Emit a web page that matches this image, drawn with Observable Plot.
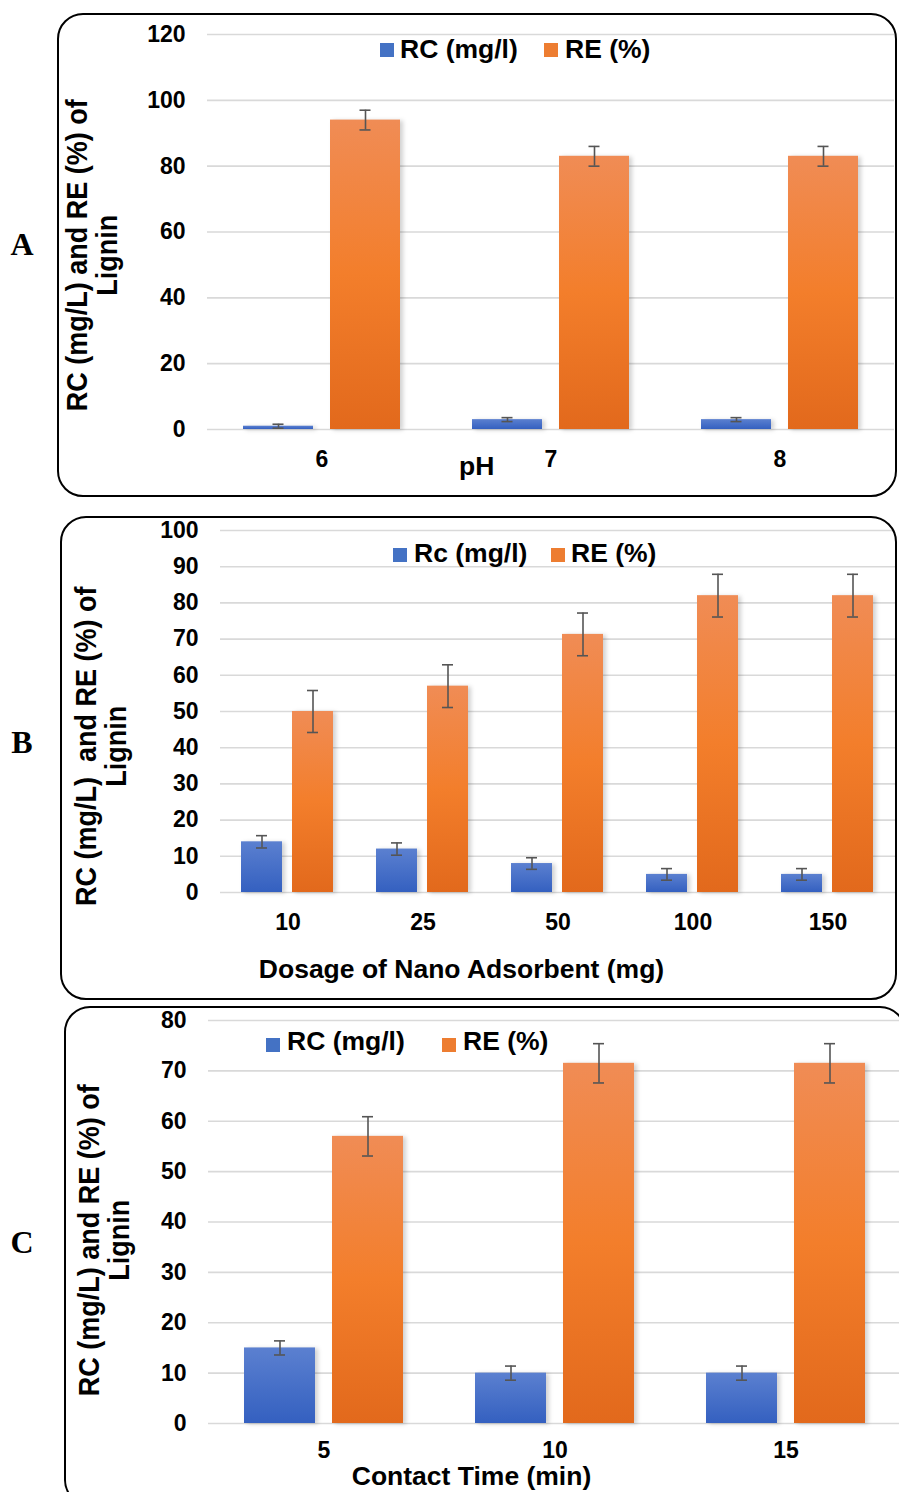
<!DOCTYPE html>
<html>
<head>
<meta charset="utf-8">
<script src="https://cdn.jsdelivr.net/npm/d3@7"></script>
<script src="https://cdn.jsdelivr.net/npm/@observablehq/plot@0.6"></script>
<style>
  body { margin: 0; background: #fff; }
  #page { position: relative; width: 899px; height: 1492px; overflow: hidden; font-family: Arial, "Liberation Sans", sans-serif; color: #000; }
  .abs { position: absolute; white-space: pre; }
  .box { position: absolute; border: 2px solid #000; border-radius: 26px; box-sizing: border-box; pointer-events: none; z-index: 5; }
  .plotwrap { position: absolute; left: 0; }
  .plotwrap svg { display: block; }
  g[aria-label="bar"] rect { filter: drop-shadow(3px 1px 2px rgba(0,0,0,0.18)); }
</style>
</head>
<body>
<svg width="0" height="0" style="position:absolute">
  <defs>
    <linearGradient id="gradOrange" x1="0" y1="0" x2="0" y2="1">
      <stop offset="0" stop-color="#F08C55"/>
      <stop offset="0.5" stop-color="#F37E2B"/>
      <stop offset="1" stop-color="#E2691C"/>
    </linearGradient>
    <linearGradient id="gradBlue" x1="0" y1="0" x2="0" y2="1">
      <stop offset="0" stop-color="#5B80D0"/>
      <stop offset="1" stop-color="#3460C0"/>
    </linearGradient>
  </defs>
</svg>
<div id="page"></div>
<script>
// ---------- DATA ----------
const seriesKeys = ["RC", "RE"];

// Panel A: pH
const phCategories = ["6", "7", "8"];
const phRC = [1, 3, 3];
const phRCerr = [0.6, 0.6, 0.6];
const phRE = [94, 83, 83];
const phREerr = [3, 3, 3];
const phTicks = [0, 20, 40, 60, 80, 100, 120];

// Panel B: dosage of nano adsorbent (mg)
const dosageCategories = ["10", "25", "50", "100", "150"];
const dosageRC = [14, 12, 8, 5, 5];
const dosageRCerr = [1.7, 1.7, 1.6, 1.6, 1.6];
const dosageRE = [50, 57, 71.3, 82, 82];
const dosageREerr = [5.8, 5.9, 5.9, 5.9, 5.9];
const dosageTicks = [0, 10, 20, 30, 40, 50, 60, 70, 80, 90, 100];

// Panel C: contact time (min)
const timeCategories = ["5", "10", "15"];
const timeRC = [15, 10, 10];
const timeRCerr = [1.4, 1.4, 1.4];
const timeRE = [57, 71.5, 71.5];
const timeREerr = [3.9, 3.9, 3.9];
const timeTicks = [0, 10, 20, 30, 40, 50, 60, 70, 80];

// ---------- HELPERS ----------
const page = document.getElementById("page");
const FONT = 'Arial, "Liberation Sans", sans-serif';
const SERIF = '"Times New Roman", "Liberation Serif", serif';

function txt(str, {x, y, anchor = "start", size = 26.5, weight = "bold", family = FONT, ascent = 0.8465}) {
  const d = document.createElement("div");
  d.className = "abs";
  d.textContent = str;
  d.style.fontFamily = family;
  d.style.fontSize = size + "px";
  d.style.lineHeight = size + "px";
  d.style.fontWeight = weight;
  d.style.top = (y - ascent * size) + "px";
  d.style.left = x + "px";
  if (anchor === "middle") d.style.transform = "translateX(-50%)";
  page.appendChild(d);
  return d;
}

function vtitle(lines, {cx, cy, size = 27}) {
  const d = document.createElement("div");
  d.className = "abs";
  const w = 440, lh = 27.3, h = lh * lines.length;
  d.style.width = w + "px";
  d.style.height = h + "px";
  d.style.left = (cx - w / 2) + "px";
  d.style.top = (cy - h / 2) + "px";
  d.style.textAlign = "center";
  d.style.fontFamily = FONT;
  d.style.fontWeight = "bold";
  d.style.fontSize = size + "px";
  d.style.lineHeight = lh + "px";
  d.style.transform = "rotate(-90deg) scaleY(1.1)";
  d.textContent = lines.join("\n");
  page.appendChild(d);
}

function swatch(color, {x, y, s = 14}) {
  const d = document.createElement("div");
  d.className = "abs";
  d.style.left = x + "px"; d.style.top = y + "px";
  d.style.width = s + "px"; d.style.height = s + "px";
  d.style.background = color;
  page.appendChild(d);
}

function box({left, top, width, height}) {
  const d = document.createElement("div");
  d.className = "box";
  Object.assign(d.style, {left: left + "px", top: top + "px", width: width + "px", height: height + "px"});
  page.appendChild(d);
}

function panel({cats, rc, rcErr, re, reErr, ticks, top, height, mt, mb, ml, mr, capInset, fxPad = 21}) {
  const rows = [];
  cats.forEach((c, i) => {
    rows.push({cat: c, s: "RC", v: rc[i], e: rcErr[i]});
    rows.push({cat: c, s: "RE", v: re[i], e: reErr[i]});
  });
  const chart = Plot.plot({
    width: 899, height,
    marginTop: mt, marginBottom: mb, marginLeft: ml, marginRight: mr,
    style: {background: "transparent", overflow: "visible", fontFamily: FONT, color: "#000"},
    fx: {domain: cats, padding: 0, label: null},
    x: {domain: seriesKeys, paddingInner: 0.19, paddingOuter: 0.4, axis: null},
    y: {domain: [ticks[0], ticks[ticks.length - 1]], label: null},
    color: {domain: seriesKeys, range: ["url(#gradBlue)", "url(#gradOrange)"]},
    marks: [
      Plot.gridY(ticks, {stroke: "#d9d9d9", strokeOpacity: 1, strokeWidth: 1.6}),
      Plot.axisY(ticks, {tickSize: 0, tickPadding: 22, fontSize: 23, fontWeight: "bold", label: null}),
      Plot.axisFx({anchor: "bottom", tickSize: 0, tickPadding: fxPad, fontSize: 23, fontWeight: "bold", label: null}),
      Plot.barY(rows, {fx: "cat", x: "s", y: "v", fill: "s"}),
      Plot.ruleX(rows, {fx: "cat", x: "s", y1: d => d.v - d.e, y2: d => d.v + d.e, stroke: "#555", strokeWidth: 1.6}),
      Plot.tickY(rows, {fx: "cat", x: "s", y: d => d.v - d.e, stroke: "#555", strokeWidth: 1.6, insetLeft: capInset, insetRight: capInset}),
      Plot.tickY(rows, {fx: "cat", x: "s", y: d => d.v + d.e, stroke: "#555", strokeWidth: 1.6, insetLeft: capInset, insetRight: capInset})
    ]
  });
  const wrap = document.createElement("div");
  wrap.className = "plotwrap";
  wrap.style.top = top + "px";
  wrap.appendChild(chart);
  page.appendChild(wrap);
}

// ---------- PANEL A ----------
panel({cats: phCategories, rc: phRC, rcErr: phRCerr, re: phRE, reErr: phREerr, ticks: phTicks,
       top: 0, height: 500, mt: 34, mb: 71, ml: 206, mr: 5, capInset: 29.5});
box({left: 57, top: 13, width: 840, height: 484});
swatch("#4472C4", {x: 380, y: 43});
txt("RC (mg/l)", {x: 400, y: 58});
swatch("#ED7D31", {x: 544, y: 43});
txt("RE (%)", {x: 565, y: 58});
txt("pH", {x: 459, y: 475});
vtitle(["RC (mg/L) and RE (%) of", "Lignin"], {cx: 92.7, cy: 255});
txt("A", {x: 22, y: 255, anchor: "middle", size: 32, family: SERIF, ascent: 0.8375});

// ---------- PANEL B ----------
panel({cats: dosageCategories, rc: dosageRC, rcErr: dosageRCerr, re: dosageRE, reErr: dosageREerr, ticks: dosageTicks,
       top: 500, height: 500, mt: 30, mb: 108, ml: 219, mr: 4, capInset: 15});
box({left: 60, top: 516, width: 837, height: 484});
swatch("#4472C4", {x: 393, y: 548});
txt("Rc (mg/l)", {x: 414, y: 562});
swatch("#ED7D31", {x: 551, y: 548});
txt("RE (%)", {x: 571, y: 562});
txt("Dosage of Nano Adsorbent (mg)", {x: 461.5, y: 978, anchor: "middle"});
vtitle(["RC (mg/L)  and RE (%) of", "Lignin"], {cx: 102, cy: 746});
txt("B", {x: 22, y: 753, anchor: "middle", size: 32, family: SERIF, ascent: 0.8375});

// ---------- PANEL C ----------
panel({cats: timeCategories, rc: timeRC, rcErr: timeRCerr, re: timeRE, reErr: timeREerr, ticks: timeTicks,
       top: 1000, height: 492, mt: 20, mb: 69, ml: 207, mr: -3, capInset: 30, fxPad: 18});
box({left: 64, top: 1006, width: 842, height: 500});
swatch("#4472C4", {x: 266, y: 1038});
txt("RC (mg/l)", {x: 287, y: 1050});
swatch("#ED7D31", {x: 442, y: 1038});
txt("RE (%)", {x: 463, y: 1050});
txt("Contact Time (min)", {x: 471.5, y: 1485, anchor: "middle"});
vtitle(["RC (mg/L) and RE (%) of", "Lignin"], {cx: 105, cy: 1240});
txt("C", {x: 22, y: 1253, anchor: "middle", size: 32, family: SERIF, ascent: 0.8375});
</script>
</body>
</html>
